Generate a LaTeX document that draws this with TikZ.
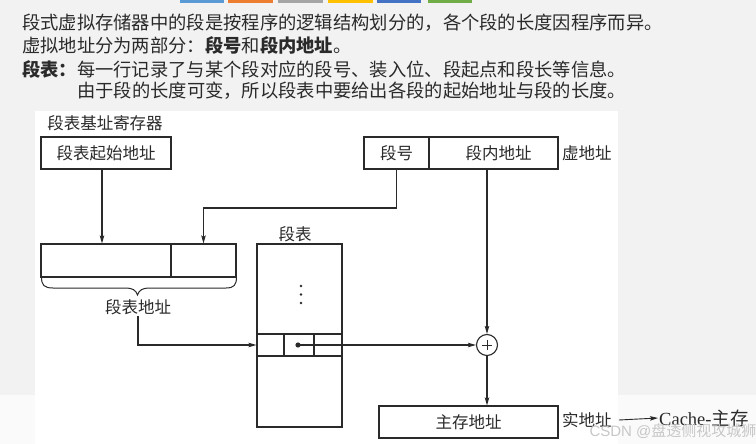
\documentclass[tikz,border=0pt]{standalone}
\usepackage{fontspec}
\setmainfont{Liberation Serif}
\setsansfont{Liberation Sans}
\newfontfamily\cjk{Noto Sans CJK SC}
\usetikzlibrary{arrows.meta}
\definecolor{bgc}{HTML}{F2F2F2}
\definecolor{ink}{HTML}{2A2A2A}
\definecolor{tA}{HTML}{5B9BD5}
\definecolor{tB}{HTML}{ED7D31}
\definecolor{tC}{HTML}{A5A5A5}
\definecolor{tD}{HTML}{FFC000}
\definecolor{tE}{HTML}{4472C4}
\definecolor{tF}{HTML}{70AD47}
\tikzset{
  headtxt/.style={anchor=west, inner sep=0pt, text=ink, font=\cjk\fontsize{18.3}{20}\selectfont},
  dtxt/.style={inner sep=1pt, text=ink, font=\cjk\fontsize{16.5}{18}\selectfont},
  cell/.style={draw=ink, line width=1.1pt, inner sep=0pt, fill=white, text=ink, font=\cjk\fontsize{16.5}{18}\selectfont},
  conn/.style={draw=ink, line width=1.1pt},
  arr/.style={conn, -{Stealth[length=8pt,width=4.5pt,inset=1.5pt]}},
}
\begin{document}
\begin{tikzpicture}[x=1pt,y=-1pt]
\useasboundingbox (0,0) rectangle (756,444);
\fill[bgc] (0,0) rectangle (756,444);
\fill[white!60!bgc] (0,395) rectangle (756,444);
\fill[white] (35,111) rectangle (618,444);
% tabs
\fill[tA] (180,0) rectangle (224,3);
\fill[tB] (228,0) rectangle (273,3);
\fill[tC] (278,0) rectangle (323,3);
\fill[tD] (328,0) rectangle (373,3);
\fill[tE] (377,0) rectangle (421,3);
\fill[tF] (428,0) rectangle (472,3);
% header text
\node[headtxt] (h1) at (22,23) {段式虚拟存储器中的段是按程序的逻辑结构划分的，各个段的长度因程序而异。};
\node[headtxt] (h2) at (22,45) {虚拟地址分为两部分：\textbf{段号}和\textbf{段内地址}。};
\node[headtxt] (h3) at (22,69) {\textbf{段表：}每一行记录了与某个段对应的段号、装入位、段起点和段长等信息。};
\node[headtxt] (h4) at (77,91) {由于段的长度可变，所以段表中要给出各段的起始地址与段的长度。};
% base register
\node[dtxt] (regl) at (105,123) {段表基址寄存器};
\node[cell, minimum width=130pt, minimum height=32pt] (sbase) at (106,153) {段表起始地址};
% virtual address
\node[cell, minimum width=65pt, minimum height=32pt] (segno) at (396.5,153) {段号};
\node[cell, minimum width=129pt, minimum height=32pt] (off) at (493.5,153) {\hspace{10pt}段内地址};
\node[dtxt, anchor=west] (vlab) at (561,153) {虚地址};
% long box
\node[cell, minimum width=130pt, minimum height=33pt] (lbl) at (106,260.5) {};
\node[cell, minimum width=65pt, minimum height=33pt] (lbr) at (203.5,260.5) {};
\coordinate (bend) at (203.5,208);
\draw[arr] ([xshift=-4pt]sbase.south) -- ([xshift=-4pt]lbl.north);
\draw[arr] (segno.south) |- (bend) -- (lbr.north);
% brace
\draw[ink, line width=1pt] (41.5,277) .. controls (41.5,285) and (44,288) .. (53,288)
  -- (126,288) .. controls (132,288) and (136,290) .. (137.5,295)
  .. controls (139,290) and (143,288) .. (149,288) -- (226,288)
  .. controls (234,288) and (236.5,285) .. (236.5,277);
\node[dtxt] (staddr) at (138,307) {段表地址};
% segment table
\node[dtxt] (tlab) at (295,234) {段表};
\node[cell, minimum width=85pt, minimum height=183pt] (tbl) at (299.5,335.5) {};
\node[cell, minimum width=27pt, minimum height=22pt] (r1) at (270.5,345) {};
\node[cell, minimum width=30pt, minimum height=22pt] (r2) at (299,345) {};
\node[cell, minimum width=28pt, minimum height=22pt] (r3) at (328,345) {};
\fill[ink] (301,286) circle (1.3) (301,294.5) circle (1.3) (301,303) circle (1.3);
\coordinate (dot) at (298,345);
\fill[ink] (dot) circle (2.6);
\draw[arr] (staddr.south) |- (r1.west);
% adder
\node[draw=ink, line width=1.1pt, circle, minimum size=21pt, inner sep=0pt, fill=white] (plus) at (487,345) {};
\draw[ink, line width=0.6pt] ([xshift=-5pt]plus.center) -- ([xshift=5pt]plus.center);
\draw[ink, line width=0.6pt] ([yshift=-5pt]plus.center) -- ([yshift=5pt]plus.center);
\draw[arr] (dot) -- (plus.west);
% main memory
\node[cell, minimum width=179pt, minimum height=32pt] (mem) at (468.5,422) {主存地址};
\draw[arr] (plus |- off.south) -- (plus.north);
\draw[arr] (plus.south) -- (plus |- mem.north);
\node[dtxt, anchor=west] (rlab) at (561,420) {实地址};
\node[inner sep=1pt, anchor=west, text=ink, font=\fontsize{18.5}{20}\selectfont] (cache) at (658,418) {Cache-{\cjk 主存}};
\draw[arr, line width=0.9pt] ([xshift=6pt]rlab.east) -- (cache.west);
% watermark
\node[inner sep=0pt, text=black!22, font=\sffamily\fontsize{15}{16}\selectfont] (wm) at (673,431) {CSDN @{\cjk 盘透侧视攻城狮}};
\end{tikzpicture}
\end{document}
